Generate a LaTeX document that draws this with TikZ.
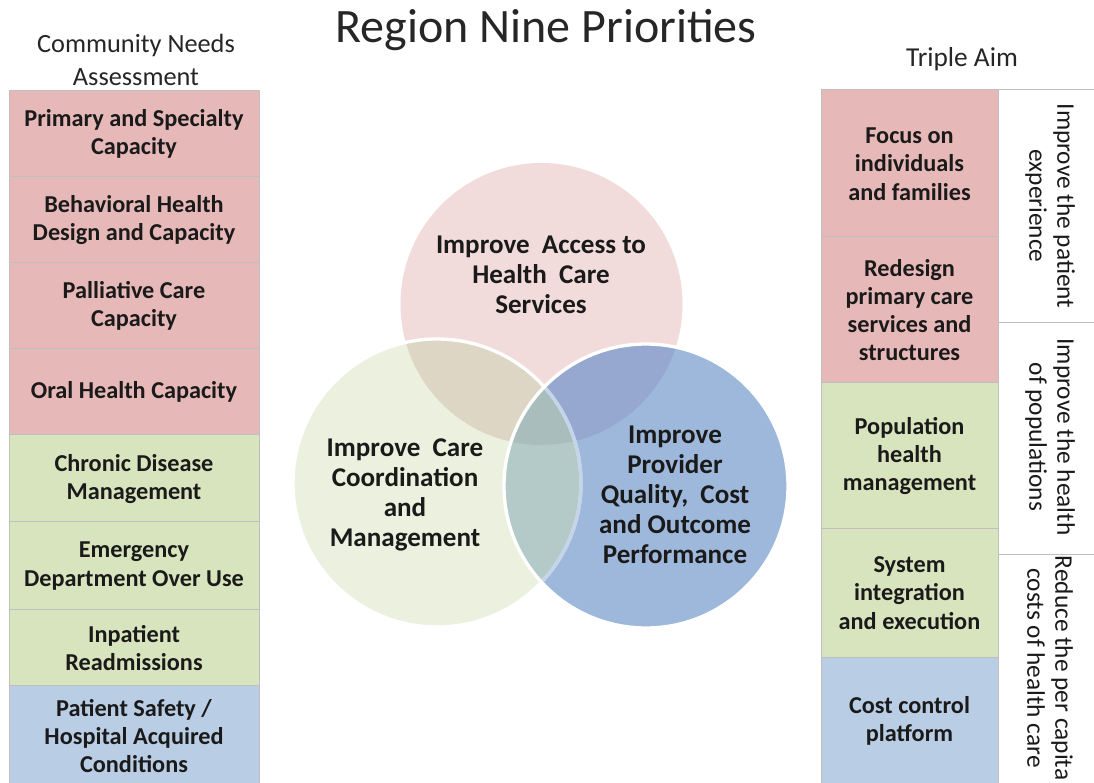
\documentclass[tikz,border=0pt]{standalone}
\usepackage{fontspec}
\setmainfont{Carlito}
\definecolor{boxpink}{HTML}{E6B9B8}
\definecolor{boxgreen}{HTML}{D7E4BD}
\definecolor{boxblue}{HTML}{B9CDE5}
\definecolor{cpink}{HTML}{F2DCDB}
\definecolor{cgreen}{HTML}{EBF1DE}
\definecolor{cblue}{HTML}{9DB8DB}
\definecolor{cpg}{HTML}{DED6C4}
\definecolor{cpb}{HTML}{96A8D0}
\definecolor{cgb}{HTML}{B4CAC8}
\definecolor{cpgb}{HTML}{AABDBD}
\definecolor{txt}{HTML}{1A1A1A}
\definecolor{hdr}{HTML}{262626}
\definecolor{rule}{HTML}{BFBFBF}
\begin{document}
\begin{tikzpicture}[x=0.75pt,y=-0.75pt,
  cell/.style={draw=rule,line width=0.75pt,inner sep=0pt,outer sep=0pt},
  boxtext/.style={text=txt,align=center,font=\bfseries\fontsize{18.2}{21.2}\selectfont},
  circtext/.style={text=txt,align=center,font=\bfseries\fontsize{20.3}{22.5}\selectfont},
  aimtext/.style={text=txt,align=center,rotate=-90,font=\fontsize{19}{21}\selectfont},
  headtext/.style={text=hdr,align=center,font=\fontsize{19.75}{24.75}\selectfont}]
\useasboundingbox (0,0) rectangle (1094,782);
\fill[white] (0,0) rectangle (1094,782);

% titles
\node[headtext,font=\fontsize{36}{40}\selectfont,anchor=base] (title) at (546,42) {Region Nine Priorities};
\node[headtext] (cna) at (136,60) {Community Needs\\Assessment};
\node[headtext,font=\fontsize{20.5}{24}\selectfont,anchor=base] (ta) at (962,66) {Triple Aim};

% left column
\foreach \t/\b/\c in {90/176/boxpink,176/262/boxpink,262/348/boxpink,348/434/boxpink,434/521/boxgreen,521/609/boxgreen,609/685/boxgreen,685/790/boxblue}{
  \path[cell,fill=\c] (9,\t) rectangle (259,\b);
}
\node[boxtext] (l1) at (134,134) {Primary and Specialty\\Capacity};
\node[boxtext] (l2) at (134,220) {Behavioral Health\\Design and Capacity};
\node[boxtext] (l3) at (134,306) {Palliative Care\\Capacity};
\node[boxtext] (l4) at (134,392) {Oral Health Capacity};
\node[boxtext] (l5) at (134,479) {Chronic Disease\\Management};
\node[boxtext] (l6) at (134,566) {Emergency\\Department Over Use};
\node[boxtext] (l7) at (134,648) {Inpatient\\Readmissions};
\node[boxtext] (l8) at (134,736) {Patient Safety /\\Hospital Acquired\\Conditions};

% right column
\foreach \t/\b/\c in {89/236/boxpink,236/382/boxpink,382/528/boxgreen,528/657/boxgreen,657/790/boxblue}{
  \path[cell,fill=\c] (821,\t) rectangle (998,\b);
}
\node[boxtext] (r1) at (909.5,164) {Focus on\\individuals\\and families};
\node[boxtext] (r2) at (909.5,310) {Redesign\\primary care\\services and\\structures};
\node[boxtext] (r3) at (909.5,456) {Population\\health\\management};
\node[boxtext] (r4) at (909.5,593) {System\\integration\\and execution};
\node[boxtext] (r5) at (909.5,721) {Cost control\\platform};

% aim column
\draw[rule,line width=0.75pt] (998,89) -- (1094,89);
\draw[rule,line width=0.75pt] (998,322) -- (1094,322);
\draw[rule,line width=0.75pt] (998,554) -- (1094,554);
\node[aimtext] (a1) at (1050,206) {Improve the patient\\experience};
\node[aimtext] (a2) at (1050,437) {Improve the health\\of populations};
\node[aimtext] (a3) at (1050,668) {Reduce the per capita\\costs of health care};

% venn
\def\P{(541.5,304) circle (141)}
\def\G{(437,483) circle (144)}
\def\B{(646,486) circle (142)}
\fill[cpink] \P;
\fill[cgreen] \G;
\fill[cblue] \B;
\begin{scope}\clip \P; \fill[cpg] \G; \fill[cpb] \B; \end{scope}
\begin{scope}\clip \G; \fill[cgb] \B; \end{scope}
\begin{scope}\clip \G; \clip \P; \fill[cpgb] \B; \end{scope}
\draw[white,line width=2.5pt] \G;
\begin{scope}\clip \B; \draw[cblue,opacity=0.6,line width=2.5pt] \G; \end{scope}
\draw[white,line width=2.5pt] \B;

\node[circtext] (cp) at (541,275) {Improve\ \ Access to\\Health\ \ Care\\Services};
\node[circtext] (cg) at (405,495) {Improve\ \ Care\\Coordination\\and\\Management};
\node[circtext] (cb) at (675,495) {Improve\\Provider\\Quality,\ \ Cost\\and Outcome\\Performance};
\end{tikzpicture}
\end{document}
